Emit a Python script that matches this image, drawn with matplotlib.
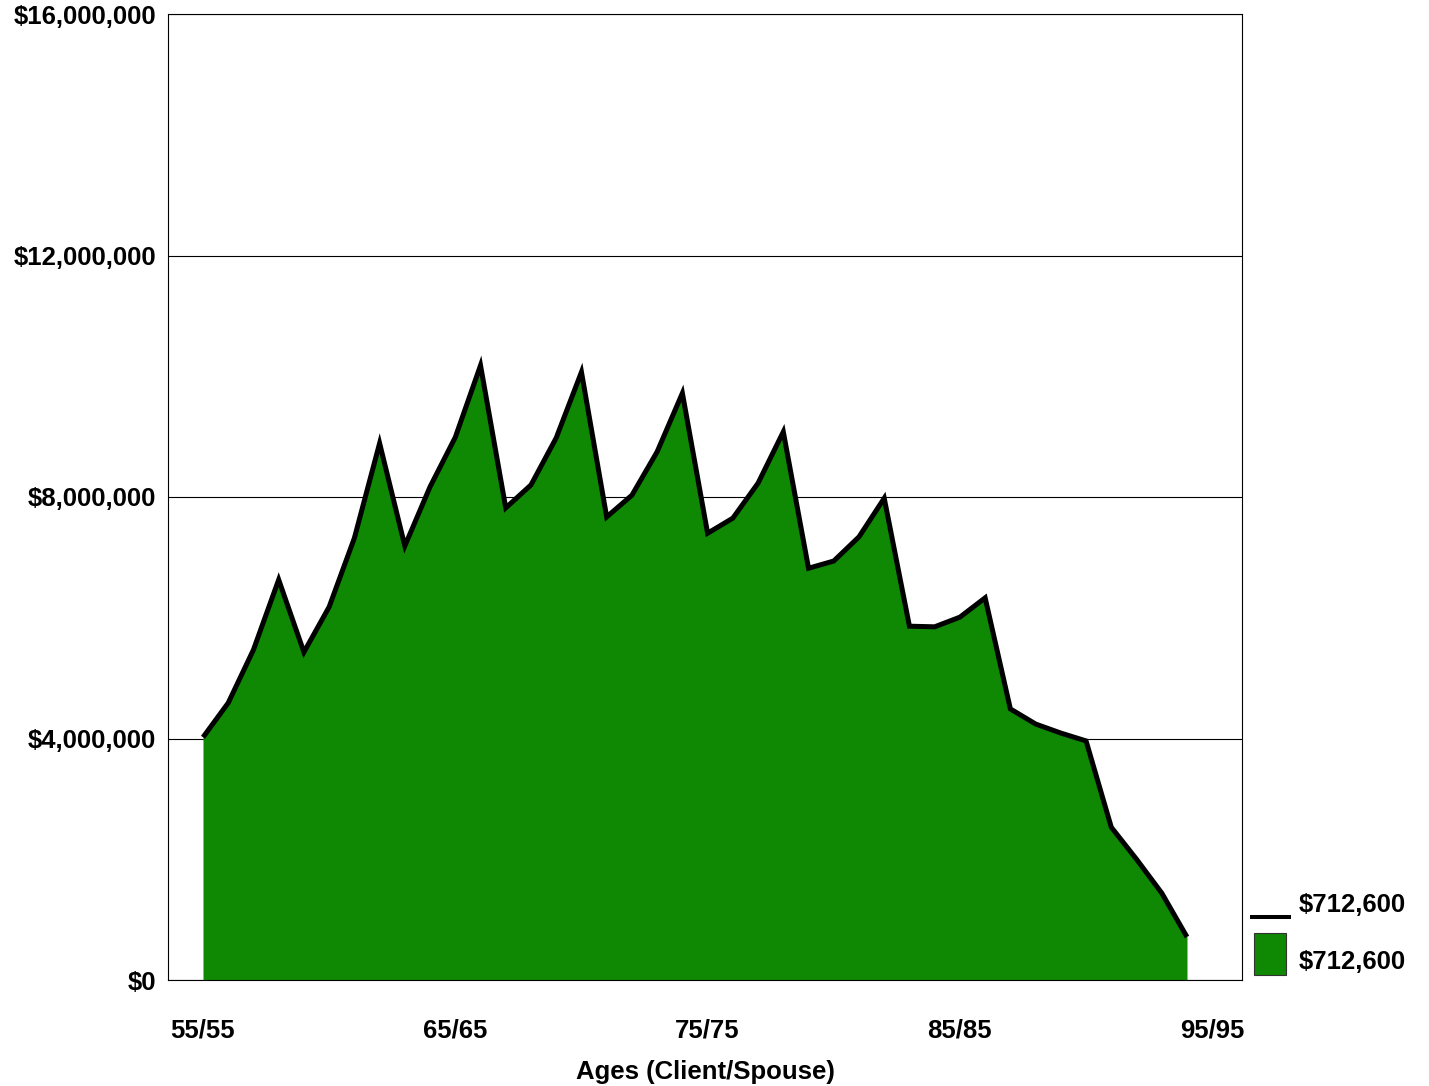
import numpy as np
import matplotlib.pyplot as plt
from matplotlib import font_manager
from matplotlib.lines import Line2D
from matplotlib.patches import Rectangle
from matplotlib.ticker import FuncFormatter

fp = font_manager.FontProperties(family='Liberation Sans', weight='bold', size=18.5)

# client age for each projection year (spouse is the same age)
ages = np.arange(55, 95)

# projected portfolio value at each age, in dollars
values = np.array([
    4020000, 4590000, 5470000, 6630000, 5430000, 6180000, 7320000, 8890000,
    7190000, 8170000, 8990000, 10180000, 7820000, 8200000, 8980000, 10070000,
    7670000, 8030000, 8750000, 9720000, 7400000, 7650000, 8230000, 9080000,
    6820000, 6940000, 7340000, 7980000, 5860000, 5850000, 6010000, 6330000,
    4490000, 4240000, 4090000, 3960000, 2530000, 2000000, 1440000, 712600,
])

tick_ages = [55, 65, 75, 85, 95]
y_ticks = [0, 4000000, 8000000, 12000000, 16000000]
end_label = '${:,.0f}'.format(values[-1])

green = '#0f8803'

fig = plt.figure(figsize=(14.29, 10.86), dpi=100)
ax = fig.add_axes([168/1429, 1 - 980/1086, (1242-168)/1429, (980-14)/1086])

ax.fill_between(ages, values, 0, color=green, linewidth=0, zorder=2)
ax.plot(ages, values, color='black', linewidth=3.6, solid_joinstyle='miter',
        solid_capstyle='butt', zorder=3)

ax.set_xlim(53.613, 96.18)
ax.set_ylim(0, 16000000)

ax.set_yticks(y_ticks)
ax.yaxis.set_major_formatter(FuncFormatter(lambda v, p: '${:,.0f}'.format(v)))
ax.set_xticks(tick_ages)
ax.set_xticklabels(['{0}/{0}'.format(a) for a in tick_ages])
ax.tick_params(axis='both', length=0)
ax.tick_params(axis='x', pad=28)
ax.tick_params(axis='y', pad=8.5)
for lbl in ax.get_xticklabels() + ax.get_yticklabels():
    lbl.set_fontproperties(fp)

ax.grid(axis='y', color='black', linewidth=0.8, zorder=1)
ax.set_axisbelow(True)
for s in ax.spines.values():
    s.set_linewidth(0.8)
    s.set_color('black')
    s.set_zorder(4)

ax.set_xlabel('Ages (Client/Spouse)', fontproperties=fp, labelpad=12)

# legend keys drawn beside the plot, in axes coordinates
tr = ax.transAxes
ax.add_line(Line2D([1.0093, 1.0438], [0.0652, 0.0652], color='black',
                   linewidth=2.9, transform=tr, clip_on=False))
ax.add_patch(Rectangle((1.0112, 0.0052), 0.0298, 0.0435, facecolor=green,
                       edgecolor='#333333', linewidth=0.8, transform=tr, clip_on=False))
ax.text(1.0531, 0.0776, end_label, fontproperties=fp, transform=tr, va='center', ha='left')
ax.text(1.0531, 0.0186, end_label, fontproperties=fp, transform=tr, va='center', ha='left')

fig.savefig('out.png', dpi=100)
